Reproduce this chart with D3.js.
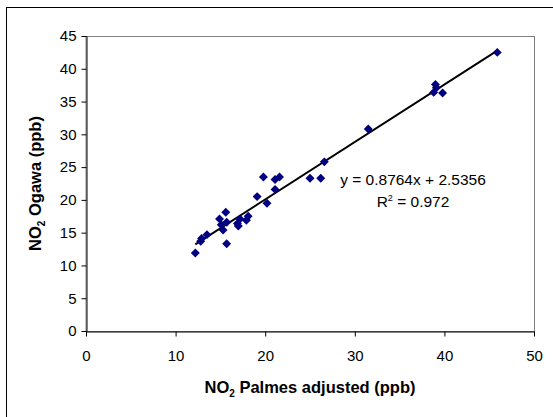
<!DOCTYPE html>
<html>
<head>
<meta charset="utf-8">
<script src="https://cdn.jsdelivr.net/npm/d3@7"></script>
<style>
  body { margin: 0; background: #fff; }
  svg { display: block; font-family: "Liberation Sans", Arial, sans-serif; }
</style>
</head>
<body>
<svg id="chart" width="553" height="417"></svg>
<script>
// NO2 Palmes adjusted (x) vs NO2 Ogawa (y), ppb
const palmes = [12.2, 12.8, 12.9, 13.5, 14.9, 15.1, 15.6, 15.7, 15.3, 15.7,
  16.9, 17.0, 17.2, 17.9, 18.1, 19.1, 19.8, 20.2, 21.1, 21.1, 21.6,
  25.0, 26.2, 26.6, 31.5, 38.8, 39.0, 39.1, 39.8, 45.9];
const ogawa = [11.9, 13.7, 14.1, 14.7, 17.1, 16.2, 18.1, 16.6, 15.4, 13.3,
  16.4, 16.0, 17.1, 16.9, 17.5, 20.5, 23.5, 19.5, 21.6, 23.1, 23.5,
  23.3, 23.3, 25.8, 30.8, 36.4, 37.6, 37.1, 36.3, 42.5];
const slope = 0.8764, intercept = 2.5356, r2 = 0.972;
const xTicks = [0, 10, 20, 30, 40, 50];
const yTicks = [0, 5, 10, 15, 20, 25, 30, 35, 40, 45];

const svg = d3.select('#chart');
const plot = { left: 86, right: 534, top: 36, bottom: 331 };

const x = d3.scaleLinear().domain([0, 50]).range([plot.left, plot.right]);
const y = d3.scaleLinear().domain([0, 45]).range([plot.bottom, plot.top]);

// outer chart border (only top/left visible in the crop)
svg.append('rect')
  .attr('x', 6.5).attr('y', 7.5)
  .attr('width', 560).attr('height', 420)
  .attr('fill', 'none').attr('stroke', '#000');

// plot area frame
svg.append('rect')
  .attr('x', plot.left).attr('y', plot.top + 0.5)
  .attr('width', plot.right - plot.left + 0.5).attr('height', plot.bottom - plot.top)
  .attr('fill', '#fff').attr('stroke', '#808080');

const xAxis = svg.append('g')
  .attr('transform', `translate(0,${plot.bottom + 0.5})`)
  .call(d3.axisBottom(x).tickValues(xTicks).tickSize(5).tickPadding(14).tickSizeOuter(0));
const yAxis = svg.append('g')
  .attr('transform', `translate(${plot.left + 0.5},0)`)
  .call(d3.axisLeft(y).tickValues(yTicks).tickSize(5).tickPadding(5).tickSizeOuter(0));

[xAxis, yAxis].forEach((g) => {
  g.select('.domain').attr('stroke', '#000');
  g.selectAll('.tick line').attr('stroke', '#000');
  g.selectAll('.tick text').attr('fill', '#000').style('font-size', '15px')
    .style('font-family', '"Liberation Sans", Arial, sans-serif');
});

// trendline
const xMin = d3.min(palmes), xMax = d3.max(palmes);
svg.append('line')
  .attr('x1', x(xMin)).attr('y1', y(slope * xMin + intercept))
  .attr('x2', x(xMax)).attr('y2', y(slope * xMax + intercept))
  .attr('stroke', '#000').attr('stroke-width', 2);

// points
const diamond = d3.symbol().type(d3.symbolSquare).size(40);
svg.append('g')
  .selectAll('path')
  .data(palmes.map((v, i) => [v, ogawa[i]]))
  .join('path')
  .attr('d', diamond)
  .attr('transform', (d) => `translate(${x(d[0])},${y(d[1])}) rotate(45)`)
  .attr('fill', '#000080');

// equation
svg.append('text')
  .attr('x', 413).attr('y', 185)
  .attr('text-anchor', 'middle').style('font-size', '15.5px')
  .text(`y = ${slope}x + ${intercept}`);
const rt = svg.append('text')
  .attr('x', 413).attr('y', 207)
  .attr('text-anchor', 'middle').style('font-size', '15.5px');
rt.append('tspan').text('R');
rt.append('tspan').attr('dy', -6).style('font-size', '9px').text('2');
rt.append('tspan').attr('dy', 6).text(` = ${r2}`);

// axis titles
const xt = svg.append('text')
  .attr('x', (plot.left + plot.right) / 2).attr('y', 393)
  .attr('text-anchor', 'middle').style('font-size', '16.5px').style('font-weight', 'bold');
xt.append('tspan').text('NO');
xt.append('tspan').attr('dy', 4).style('font-size', '10px').text('2');
xt.append('tspan').attr('dy', -4).text(' Palmes adjusted (ppb)');

const yt = svg.append('text')
  .attr('transform', `translate(41,${(plot.top + plot.bottom) / 2}) rotate(-90)`)
  .attr('text-anchor', 'middle').style('font-size', '16.5px').style('font-weight', 'bold');
yt.append('tspan').text('NO');
yt.append('tspan').attr('dy', 4).style('font-size', '10px').text('2');
yt.append('tspan').attr('dy', -4).text(' Ogawa (ppb)');
</script>
</body>
</html>
